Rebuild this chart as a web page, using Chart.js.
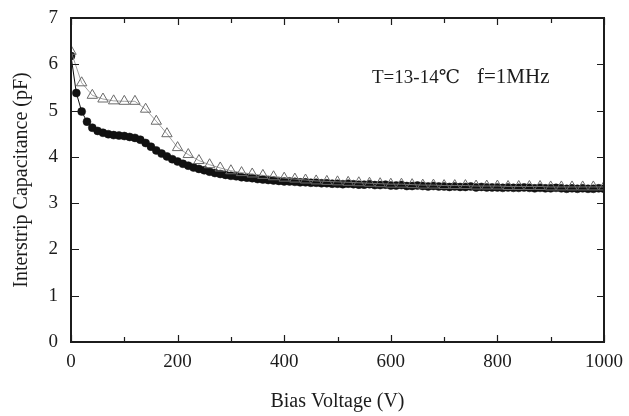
<!DOCTYPE html>
<html>
<head>
<meta charset="utf-8">
<script src="https://cdn.jsdelivr.net/npm/chart.js@4"></script>
<style>
  html, body { margin: 0; padding: 0; background: #fff; }
  #wrap { width: 629px; height: 416px; }
</style>
</head>
<body>
<div id="wrap"><canvas id="capChart" width="629" height="416"></canvas></div>
<script>
// filled circles, measured every 10 V
var circleVoltage = [0, 10, 20, 30, 40, 50, 60, 70, 80, 90,
    100, 110, 120, 130, 140, 150, 160, 170, 180, 190,
    200, 210, 220, 230, 240, 250, 260, 270, 280, 290,
    300, 310, 320, 330, 340, 350, 360, 370, 380, 390,
    400, 410, 420, 430, 440, 450, 460, 470, 480, 490,
    500, 510, 520, 530, 540, 550, 560, 570, 580, 590,
    600, 610, 620, 630, 640, 650, 660, 670, 680, 690,
    700, 710, 720, 730, 740, 750, 760, 770, 780, 790,
    800, 810, 820, 830, 840, 850, 860, 870, 880, 890,
    900, 910, 920, 930, 940, 950, 960, 970, 980, 990, 1000];
var circleCap = [6.18, 5.38, 4.98, 4.76, 4.63, 4.56, 4.52, 4.49, 4.47, 4.46,
    4.45, 4.43, 4.41, 4.37, 4.30, 4.22, 4.14, 4.07, 4.01, 3.95,
    3.90, 3.85, 3.81, 3.77, 3.74, 3.71, 3.68, 3.65, 3.63, 3.61,
    3.59, 3.58, 3.56, 3.55, 3.54, 3.52, 3.51, 3.50, 3.49, 3.48,
    3.47, 3.47, 3.46, 3.45, 3.45, 3.44, 3.44, 3.43, 3.43, 3.42,
    3.42, 3.41, 3.42, 3.41, 3.40, 3.40, 3.41, 3.39, 3.39, 3.40,
    3.38, 3.38, 3.39, 3.37, 3.37, 3.38, 3.37, 3.36, 3.37, 3.36,
    3.36, 3.35, 3.36, 3.35, 3.35, 3.36, 3.34, 3.35, 3.34, 3.34,
    3.34, 3.33, 3.34, 3.33, 3.33, 3.34, 3.33, 3.32, 3.33, 3.32,
    3.32, 3.33, 3.32, 3.31, 3.32, 3.31, 3.32, 3.31, 3.31, 3.32, 3.31];

// open triangles, measured every 20 V
var triVoltage = [0, 20, 40, 60, 80, 100, 120, 140, 160, 180,
    200, 220, 240, 260, 280, 300, 320, 340, 360, 380,
    400, 420, 440, 460, 480, 500, 520, 540, 560, 580,
    600, 620, 640, 660, 680, 700, 720, 740, 760, 780,
    800, 820, 840, 860, 880, 900, 920, 940, 960, 980, 1000];
var triCap = [6.28, 5.60, 5.33, 5.25, 5.21, 5.20, 5.20, 5.03, 4.77, 4.50,
    4.20, 4.05, 3.92, 3.83, 3.76, 3.70, 3.66, 3.63, 3.60, 3.57,
    3.54, 3.52, 3.50, 3.48, 3.47, 3.46, 3.45, 3.44, 3.43, 3.42,
    3.41, 3.41, 3.40, 3.39, 3.39, 3.38, 3.38, 3.38, 3.37, 3.37,
    3.37, 3.36, 3.36, 3.36, 3.36, 3.35, 3.35, 3.35, 3.35, 3.35, 3.35];

var xTicks = [0, 200, 400, 600, 800, 1000];
var yTicks = [0, 1, 2, 3, 4, 5, 6, 7];
var noteLeft = 'T=13-14\u2103';
var noteRight = 'f=1MHz';

var serif = '"Liberation Serif", "DejaVu Serif", "Times New Roman", serif';
var ink = '#1c1c1c';

function toPoints(xs, ys) {
    return xs.map(function (x, i) { return { x: x, y: ys[i] }; });
}

// frame + inward ticks + annotation
var framePlugin = {
    id: 'framePlugin',
    afterDraw: function (chart) {
        var ctx = chart.ctx;
        var a = chart.chartArea;
        var xs = chart.scales.x, ys = chart.scales.y;
        ctx.save();
        ctx.strokeStyle = ink;
        ctx.lineWidth = 1.2;
        // x ticks, major every 200, minor every 100
        for (var v = 0; v <= 1000; v += 100) {
            var px = Math.round(xs.getPixelForValue(v)) + 0.5;
            var len = (v % 200 === 0) ? 7 : 5;
            ctx.beginPath();
            ctx.moveTo(px, a.bottom); ctx.lineTo(px, a.bottom - len);
            ctx.moveTo(px, a.top); ctx.lineTo(px, a.top + len);
            ctx.stroke();
        }
        yTicks.forEach(function (t) {
            var py = Math.round(ys.getPixelForValue(t)) + 0.5;
            ctx.beginPath();
            ctx.moveTo(a.left, py); ctx.lineTo(a.left + 8, py);
            ctx.moveTo(a.right, py); ctx.lineTo(a.right - 7, py);
            ctx.stroke();
        });
        ctx.lineWidth = 2;
        ctx.strokeRect(a.left, a.top, a.right - a.left, a.bottom - a.top);

        ctx.fillStyle = ink;
        ctx.font = '19px ' + serif;
        ctx.textBaseline = 'alphabetic';
        ctx.textAlign = 'left';
        ctx.fillText(noteLeft, 372, 83);
        ctx.font = '21px ' + serif;
        ctx.fillText(noteRight, 477, 83);
        ctx.restore();
    }
};

var ctx = document.getElementById('capChart').getContext('2d');
new Chart(ctx, {
    type: 'scatter',
    data: {
        datasets: [{
            label: 'triangles',
            data: toPoints(triVoltage, triCap),
            showLine: true,
            borderColor: '#8a8a8a',
            borderWidth: 0.8,
            pointStyle: 'triangle',
            pointRadius: 6,
            pointBorderWidth: 1,
            pointBorderColor: '#6a6a6a',
            pointBackgroundColor: 'rgba(255,255,255,0)'
        }, {
            label: 'circles',
            data: toPoints(circleVoltage, circleCap),
            showLine: true,
            borderColor: '#111',
            borderWidth: 1,
            pointStyle: 'circle',
            pointRadius: 4,
            pointBorderWidth: 0.5,
            pointBorderColor: '#111',
            pointBackgroundColor: '#111'
        }]
    },
    options: {
        responsive: false,
        animation: false,
        layout: { padding: { top: 18, right: 25, left: 0, bottom: 0 } },
        plugins: {
            legend: { display: false },
            tooltip: { enabled: false }
        },
        scales: {
            x: {
                type: 'linear',
                min: 0,
                max: 1000,
                afterBuildTicks: function (scale) {
                    scale.ticks = xTicks.map(function (v) { return { value: v }; });
                },
                afterFit: function (scale) {
                    scale.height = 74;
                    scale.paddingLeft = 0;
                    scale.paddingRight = 0;
                },
                grid: { display: false, drawTicks: false },
                border: { display: false },
                ticks: {
                    padding: 9,
                    color: ink,
                    maxRotation: 0,
                    font: { family: serif, size: 19 },
                    callback: function (value) { return String(value); }
                },
                title: {
                    display: true,
                    text: 'Bias Voltage (V)',
                    color: ink,
                    padding: { top: 0, bottom: 2 },
                    font: { family: serif, size: 20 }
                }
            },
            y: {
                type: 'linear',
                min: 0,
                max: 7,
                afterBuildTicks: function (scale) {
                    scale.ticks = yTicks.map(function (v) { return { value: v }; });
                },
                afterFit: function (scale) {
                    scale.width = 71;
                    scale.paddingTop = 0;
                    scale.paddingBottom = 0;
                },
                grid: { display: false, drawTicks: false },
                border: { display: false },
                ticks: {
                    padding: 13,
                    color: ink,
                    font: { family: serif, size: 19 }
                },
                title: {
                    display: true,
                    text: 'Interstrip Capacitance (pF)',
                    color: ink,
                    padding: { top: 10, bottom: 0 },
                    font: { family: serif, size: 20 }
                }
            }
        }
    },
    plugins: [framePlugin]
});
</script>
</body>
</html>
